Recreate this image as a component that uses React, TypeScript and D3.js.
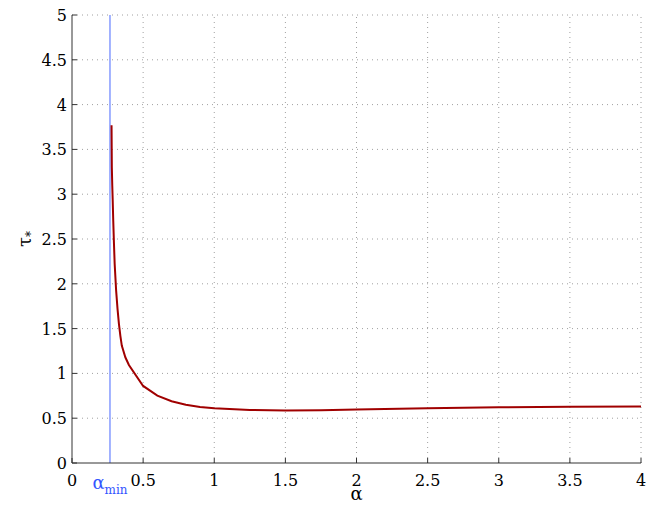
import React from "react";
import * as d3 from "d3";

const alphaValues = [0.278, 0.28, 0.283, 0.286, 0.29, 0.295, 0.3, 0.31, 0.32, 0.33, 0.34, 0.35, 0.375, 0.4, 0.5, 0.6, 0.7, 0.8, 0.9, 1.0, 1.25, 1.5, 1.75, 2.0, 2.5, 3.0, 3.5, 4.0];
const tauValues = [3.77, 3.3, 3.1, 2.94, 2.7, 2.45, 2.22, 1.93, 1.72, 1.55, 1.42, 1.31, 1.18, 1.094, 0.86, 0.752, 0.69, 0.65, 0.625, 0.61, 0.592, 0.585, 0.59, 0.598, 0.612, 0.622, 0.627, 0.63];
const alphaMin = 0.267;
const xTicks = [0, 0.5, 1, 1.5, 2, 2.5, 3, 3.5, 4];
const yTicks = [0, 0.5, 1, 1.5, 2, 2.5, 3, 3.5, 4, 4.5, 5];

const W = 651, H = 514;
const m = { left: 72, right: 10, top: 15, bottom: 51 };
const FONT = "DejaVu Serif";

export default function App() {
  const x = d3.scaleLinear().domain([0, 4]).range([m.left, W - m.right]);
  const y = d3.scaleLinear().domain([0, 5]).range([H - m.bottom, m.top]);
  const pts: [number, number][] = alphaValues.map((a, i) => [a, tauValues[i]]);
  const line = d3.line<[number, number]>().x(d => x(d[0])).y(d => y(d[1]));
  const x0 = x(0), x1 = x(4), y0 = y(0), y1 = y(5);
  return (
    <svg width={W} height={H} style={{ position: "absolute", left: 0, top: 0, background: "#fff" }}>
      <rect x={0} y={0} width={W} height={H} fill="#fff" />
      {xTicks.map(t => t > 0 && (
        <line key={"gx" + t} x1={x(t)} x2={x(t)} y1={y0} y2={y1} stroke="#a0a0a0" strokeWidth={1} strokeDasharray="1,4" />
      ))}
      {yTicks.map(t => t > 0 && (
        <line key={"gy" + t} x1={x0} x2={x1} y1={y(t)} y2={y(t)} stroke="#a0a0a0" strokeWidth={1} strokeDasharray="1,4" />
      ))}
      <line x1={x(alphaMin)} x2={x(alphaMin)} y1={y0} y2={y1} stroke="#6680ff" strokeWidth={1.2} />
      <path d={line(pts) || ""} fill="none" stroke="#a00000" strokeWidth={2} />
      <line x1={x0} x2={x1} y1={y0} y2={y0} stroke="#333" strokeWidth={1} />
      <line x1={x0} x2={x0} y1={y0} y2={y1} stroke="#333" strokeWidth={1} />
      {xTicks.map(t => (
        <g key={"tx" + t}>
          <line x1={x(t)} x2={x(t)} y1={y0} y2={y0 - 5} stroke="#333" />
          <text x={x(t)} y={486} textAnchor="middle" fontFamily={FONT} fontSize={16} fill="#000">{t}</text>
        </g>
      ))}
      {yTicks.map(t => (
        <g key={"ty" + t}>
          <line x1={x0} x2={x0 + 5} y1={y(t)} y2={y(t)} stroke="#333" />
          <text x={67} y={y(t) + 6} textAnchor="end" fontFamily={FONT} fontSize={16} fill="#000">{t}</text>
        </g>
      ))}
      <text x={x(alphaMin)} y={489} textAnchor="middle" fill="#3355ff" fontFamily={FONT} fontSize={18}>
        α<tspan fontSize={12} dy={5}>min</tspan>
      </text>
      <text x={x(2)} y={500} textAnchor="middle" fontFamily={FONT} fontSize={18} fill="#000">α</text>
      <text transform={`translate(31,${y(2.5)}) rotate(-90)`} textAnchor="middle" fontFamily={FONT} fontSize={18} fill="#000">
        τ<tspan fontSize={12} dy={4}>*</tspan>
      </text>
    </svg>
  );
}
